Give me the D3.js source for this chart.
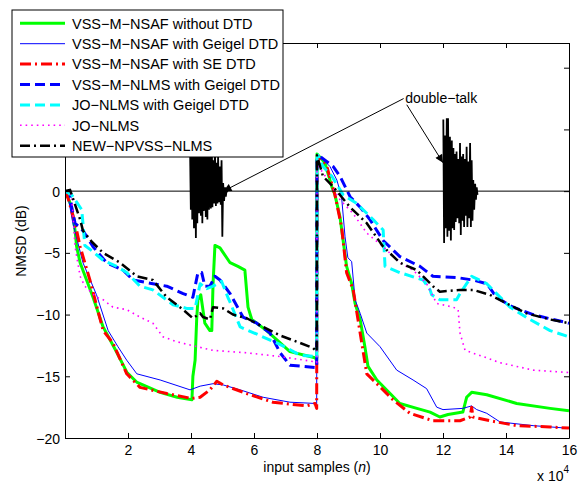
<!DOCTYPE html>
<html lang="en">
<head>
<meta charset="UTF-8">
<script src="https://d3js.org/d3.v7.min.js"></script>
<title>NMSD vs input samples</title>
<style>
  body { margin: 0; background: #fff; }
  text { font-family: "Liberation Sans", Arial, Helvetica, sans-serif; }
</style>
</head>
<body>
<script>
// x values are in units of 10^4 samples, y values in dB

// VSS-M-NSAF without DTD
const xNsafNoDtd = [0, 0.05, 0.21, 0.32, 0.37, 0.48, 0.89, 1.21, 1.65, 1.97, 2.29, 3.02, 3.56, 4.03, 4.06, 4.13, 4.18, 4.22, 4.31, 4.44, 4.6, 4.66, 4.7, 4.76, 4.92, 5.24, 5.49, 5.71, 5.81, 5.93, 6.4, 7.14, 7.94, 7.99,
  8.0, 8.25, 8.47, 8.57, 8.73, 8.83, 8.94, 9.1, 9.21, 9.37, 9.52, 9.62, 9.9, 10.32, 10.63, 11.17, 11.59, 11.9, 12.16, 12.63, 12.75, 12.91, 13.39, 14.34, 15.4, 16];
const yNsafNoDtd = [0, -0.2, -1.3, -3.2, -4.5, -5.8, -8.6, -11, -13.1, -14.7, -15.5, -16.3, -16.7, -16.9, -15, -13.7, -10.4, -8.8, -8.4, -10.7, -11.3, -11.3, -7.5, -4.4, -4.6, -5.8, -6.1, -6.4, -9.4, -10.4, -11.3, -13.0, -13.5, -13.7,
  3.0, 2.3, 0.36, -0.3, -2.1, -4.0, -6.1, -7.5, -9.1, -10.4, -12.6, -14.2, -15.3, -16.4, -17.2, -17.6, -17.9, -18.3, -18.1, -17.9, -16.7, -16.3, -16.5, -17.2, -17.6, -17.8];

// VSS-M-NSAF with Geigel DTD
const xNsafGeigel = [0, 0.1, 0.25, 0.57, 1.0, 1.37, 1.68, 1.96, 2.28, 3.02, 3.97, 4.29, 4.7, 5.02, 5.56, 6.29, 7.14, 7.94, 7.99,
  8.0, 8.1, 8.41, 8.63, 8.78, 8.89, 8.98, 9.1, 9.21, 9.37, 9.58, 10.0, 10.53, 11.05, 11.48, 11.8, 12.0, 12.63, 12.91, 13.07, 13.39, 13.81, 14.86, 15.93, 16];
const yNsafGeigel = [0, -0.5, -2.6, -5.8, -8.4, -11.3, -12.6, -13.7, -14.8, -15.3, -16.1, -15.8, -15.6, -15.7, -16.1, -16.7, -17.1, -17.2, -17.3,
  2.6, 2.8, 2.0, 0.9, -0.45, -3.7, -5.4, -5.7, -8.8, -9.9, -11.5, -12.6, -14.5, -15.3, -16.0, -17.5, -17.7, -17.6, -17.4, -17.7, -18.0, -18.7, -19.0, -19.2, -19.2];

// VSS-M-NSAF with SE DTD
const xNsafSe = [0, 0.1, 0.32, 0.48, 0.79, 1.21, 1.52, 1.96, 2.38, 3.23, 4.02, 4.29, 4.6, 4.82, 5.02, 5.77, 6.6, 7.67, 7.94, 7.99,
  8.0, 8.03, 8.31, 8.57, 8.78, 8.94, 9.15, 9.37, 9.58, 9.9, 10.41, 10.95, 11.68, 12.54, 12.86, 12.91, 12.95, 13.49, 14.34, 15.4, 16];
const yNsafSe = [0, -0.6, -2.6, -4.5, -7.2, -11.3, -12.3, -14.8, -15.9, -16.4, -16.8, -16.7, -16.1, -15.4, -15.7, -16.4, -17.1, -17.4, -17.2, -17.6,
  2.5, 2.8, 2.0, -0.3, -2.9, -6.6, -8.0, -11.5, -14.8, -15.6, -16.9, -18.0, -18.6, -18.6, -18.3, -17.5, -18.3, -18.6, -19.0, -19.1, -19.2];

// VSS-M-NLMS with Geigel DTD
const xNlmsGeigel = [0, 0.16, 0.21, 0.32, 0.57, 0.89, 1.32, 1.84, 2.16, 2.79, 3.23, 3.75, 4.06, 4.22, 4.34, 4.44, 4.6, 4.76, 4.92, 5.24, 5.65, 6.09, 6.51, 6.83, 7.14, 7.56, 7.99,
  8.0, 8.1, 8.51, 8.73, 9.05, 9.37, 9.68, 10.1, 10.63, 11.27, 11.68, 12.43, 12.95, 13.39, 13.7, 14.22, 14.86, 15.49, 16];
const yNlmsGeigel = [0, -0.15, -1.3, -2.6, -3.2, -4.5, -5.8, -6.4, -7.2, -7.5, -7.7, -8.3, -8.6, -6.6, -6.6, -7.7, -7.7, -6.9, -7.2, -8.3, -10.2, -10.7, -11.5, -13.1, -14.1, -14.2, -14.3,
  2.5, 2.8, 2.0, 1.2, -0.45, -1.3, -2.3, -4.0, -5.3, -6.1, -6.9, -7.0, -7.2, -7.5, -8.6, -9.4, -10.0, -10.4, -10.7];

// JO-NLMS with Geigel DTD
const xJoGeigel = [0, 0.21, 0.53, 0.57, 0.63, 0.89, 1.21, 1.64, 1.96, 2.38, 2.79, 3.43, 3.86, 4.13, 4.29, 4.5, 4.7, 4.97, 5.17, 5.24, 5.56, 6.19, 6.72, 7.04, 7.46, 7.94, 7.99,
  8.0, 8.03, 8.19, 8.47, 8.83, 9.26, 9.78, 10.1, 10.16, 10.63, 11.37, 11.59, 11.64, 11.9, 12.43, 12.54, 12.75, 12.91, 13.39, 13.7, 14.13, 14.76, 15.4, 16];
const yJoGeigel = [0, -0.3, -1.5, -2.6, -4.4, -4.9, -5.6, -6.1, -6.6, -7.7, -8.0, -9.2, -9.5, -9.5, -7.5, -7.9, -7.7, -7.3, -8.6, -9.0, -11.0, -11.7, -12.3, -12.7, -13.3, -13.4, -13.5,
  2.6, 2.9, 2.0, 1.2, -0.3, -1.0, -2.3, -3.15, -6.1, -6.6, -7.2, -8.0, -8.4, -8.8, -8.8, -8.3, -7.5, -6.9, -7.5, -8.3, -9.4, -10.4, -11.3, -11.8];

// JO-NLMS
const xJo = [0, 0.21, 0.25, 0.32, 0.48, 0.63, 1.0, 1.21, 1.52, 1.96, 2.38, 2.79, 3.11, 3.55, 4.02, 4.7, 5.77, 6.83, 7.87, 7.99,
  8.0, 8.03, 8.19, 8.73, 9.14, 9.58, 10.1, 10.63, 11.05, 11.48, 11.8, 12.32, 12.48, 12.54, 12.7, 13.27, 13.81, 14.86, 16];
const yJo = [0, -0.3, -1.8, -4.5, -6.9, -7.7, -8.6, -8.8, -9.4, -9.6, -10.2, -10.7, -11.8, -12.2, -12.5, -12.9, -13.1, -13.4, -13.8, -13.9,
  1.8, 2.0, 1.5, -0.7, -1.8, -3.4, -4.5, -5.8, -6.4, -7.5, -9.1, -9.4, -9.6, -11.5, -12.9, -13.4, -13.9, -14.5, -14.7];

// NEW-NPVSS-NLMS
const xNpvss = [0, 0.16, 0.48, 0.57, 0.85, 1.21, 1.75, 2.28, 2.79, 3.23, 3.75, 4.06, 4.29, 4.38, 4.6, 4.7, 5.02, 5.33, 5.77, 6.29, 6.83, 7.36, 7.87, 7.99,
  8.0, 8.19, 8.51, 9.05, 9.58, 10.1, 10.63, 11.17, 11.68, 11.9, 12.54, 12.95, 13.49, 14.02, 14.65, 15.4, 16];
const yNpvss = [0, 0.1, -2.3, -3.2, -4.1, -5.0, -5.8, -6.9, -7.2, -8.6, -9.6, -10.3, -9.9, -10.2, -10.4, -9.4, -9.5, -10.0, -10.3, -11.0, -11.7, -12.2, -12.7, -13.0,
  2.9, 1.2, 0.36, -1.3, -2.6, -4.5, -5.8, -6.4, -7.7, -8.15, -8.0, -8.0, -8.4, -9.1, -9.9, -10.4, -10.7];

// double-talk signal (scaled, drawn around 0 dB): peak envelope of each burst
const dt1X  = [3.97, 4.02, 4.06, 4.13, 4.18, 4.22, 4.29, 4.34, 4.38, 4.44, 4.5, 4.54, 4.6, 4.66, 4.7, 4.76, 4.82, 4.86, 4.92, 4.97, 5.02, 5.08, 5.13];
const dt1Hi = [3.5, 5.5, 6.0, 5.0, 6.2, 5.5, 4.8, 5.6, 4.5, 5.2, 4.0, 4.6, 3.8, 4.2, 2.5, 3.6, 2.3, 2.8, 2.0, 2.5, 0.65, 0.3, 0.1];
const dt1Lo = [-1.5, -2.3, -3.0, -3.8, -2.6, -1.8, -2.0, -2.6, -1.6, -2.1, -2.3, -1.5, -1.4, -1.3, -1.0, -1.2, -1.0, -0.9, -1.1, -3.7, -0.8, -0.45, -0.1];
const dt2X  = [12.01, 12.06, 12.12, 12.16, 12.22, 12.28, 12.33, 12.38, 12.43, 12.49, 12.54, 12.59, 12.64, 12.7, 12.75, 12.8, 12.86, 12.91, 12.96, 13.02, 13.07];
const dt2Hi = [5.8, 4.5, 5.9, 5.9, 4.4, 4.1, 3.5, 3.0, 3.2, 2.6, 3.9, 2.8, 3.0, 2.6, 3.6, 2.4, 3.9, 2.5, 0.9, 0.6, 0.3];
const dt2Lo = [-4.2, -3.0, -3.7, -3.2, -4.0, -3.0, -3.15, -2.5, -2.2, -2.6, -3.55, -2.4, -2.9, -2.0, -2.9, -2.2, -2.9, -2.4, -1.5, -0.7, -0.3];

const legendLabels = ["VSS\u2212M\u2212NSAF without DTD", "VSS\u2212M\u2212NSAF with Geigel DTD", "VSS\u2212M\u2212NSAF with SE DTD",
  "VSS\u2212M\u2212NLMS with Geigel DTD", "JO\u2212NLMS with Geigel DTD", "JO\u2212NLMS", "NEW\u2212NPVSS\u2212NLMS"];
const xTicks = [2, 4, 6, 8, 10, 12, 14, 16];
const yTicks = [-20, -15, -10, -5, 0, 5, 10];

// annotation: text anchor and arrow tips (data units)
const annText = "double\u2212talk";
const annPos = [10.8, 7.55];
const annArrows = [[[10.75, 7.5], [5.03, 0.0]], [[10.85, 7.0], [12.0, 2.3]]];

const W = 581, H = 483;
const svg = d3.select("body").append("svg").attr("width", W).attr("height", H);

const x = d3.scaleLinear().domain([0, 16]).range([65, 569]);
const y = d3.scaleLinear().domain([-20, 12]).range([438, 43]);

const series = [
  { xs: xNsafNoDtd, ys: yNsafNoDtd, color: "#00ff00", w: 3, dash: null },
  { xs: xNsafGeigel, ys: yNsafGeigel, color: "#0000ff", w: 1, dash: null },
  { xs: xNsafSe, ys: yNsafSe, color: "#ff0000", w: 3, dash: "11,4,2,4" },
  { xs: xNlmsGeigel, ys: yNlmsGeigel, color: "#0000ff", w: 3, dash: "10,5" },
  { xs: xJoGeigel, ys: yJoGeigel, color: "#00ffff", w: 3, dash: "10,5" },
  { xs: xJo, ys: yJo, color: "#ff00ff", w: 1.6, dash: "1.6,4" },
  { xs: xNpvss, ys: yNpvss, color: "#000000", w: 2.5, dash: "10,4,2,4" }
];

const line = d3.line().x(d => x(d[0])).y(d => y(d[1]));

svg.append("defs").append("clipPath").attr("id", "plotclip")
  .append("rect").attr("x", 65).attr("y", 43).attr("width", 504).attr("height", 395);

const plot = svg.append("g").attr("clip-path", "url(#plotclip)");

series.forEach(s => {
  plot.append("path")
    .datum(s.xs.map((v, i) => [v, s.ys[i]]))
    .attr("d", line)
    .attr("fill", "none")
    .attr("stroke", s.color)
    .attr("stroke-width", s.w)
    .attr("stroke-dasharray", s.dash)
    .attr("stroke-linejoin", "round");
});

// double-talk signal: thin baseline at 0 plus two bursts
function burst(xs, hi, lo) {
  const pts = [];
  xs.forEach((v, i) => {
    const step = i < xs.length - 1 ? xs[i + 1] - v : xs[i] - xs[i - 1];
    pts.push([v, hi[i]]);
    pts.push([v + step / 2, lo[i]]);
  });
  return pts;
}
plot.append("line")
  .attr("x1", x(0)).attr("x2", x(16)).attr("y1", y(0)).attr("y2", y(0))
  .attr("stroke", "#000").attr("stroke-width", 1);
[burst(dt1X, dt1Hi, dt1Lo), burst(dt2X, dt2Hi, dt2Lo)].forEach(pts => {
  plot.append("path")
    .datum(pts)
    .attr("d", line)
    .attr("fill", "none")
    .attr("stroke", "#000")
    .attr("stroke-width", 1.8);
});

// axes (MATLAB style, ticks inside)
const axB = svg.append("g").attr("transform", "translate(0,438)")
  .call(d3.axisBottom(x).tickValues(xTicks).tickSizeInner(-5).tickSizeOuter(0).tickPadding(7));
const axT = svg.append("g").attr("transform", "translate(0,43)")
  .call(d3.axisTop(x).tickValues(xTicks).tickSizeInner(-5).tickSizeOuter(0).tickFormat(""));
const axL = svg.append("g").attr("transform", "translate(65,0)")
  .call(d3.axisLeft(y).tickValues(yTicks).tickSizeInner(-5).tickSizeOuter(0).tickPadding(5));
const axR = svg.append("g").attr("transform", "translate(569,0)")
  .call(d3.axisRight(y).tickValues(yTicks).tickSizeInner(-5).tickSizeOuter(0).tickFormat(""));
[axB, axT, axL, axR].forEach(a => {
  a.selectAll("path,line").attr("stroke", "#000").attr("stroke-width", 1);
  a.selectAll("text").attr("font-size", 14).attr("fill", "#000")
    .attr("font-family", "'Liberation Sans', Arial, sans-serif");
});
axL.selectAll("text").attr("dy", "0.36em");

// axis labels
svg.append("text")
  .attr("transform", "translate(26,241) rotate(-90)")
  .attr("text-anchor", "middle").attr("font-size", 14)
  .text("NMSD (dB)");
const xl = svg.append("text")
  .attr("x", 317).attr("y", 472)
  .attr("text-anchor", "middle").attr("font-size", 14);
xl.append("tspan").text("input samples (");
xl.append("tspan").attr("font-style", "italic").text("n");
xl.append("tspan").text(")");
const mult = svg.append("text").attr("x", 537).attr("y", 481).attr("font-size", 14);
mult.append("tspan").text("x 10");
mult.append("tspan").attr("font-size", 10).attr("dy", -8).text("4");

// annotation arrows
svg.append("defs").append("marker")
  .attr("id", "ah").attr("viewBox", "0 0 10 10").attr("refX", 10).attr("refY", 5)
  .attr("markerWidth", 10).attr("markerHeight", 8).attr("markerUnits", "userSpaceOnUse")
  .attr("orient", "auto")
  .append("path").attr("d", "M0,0L10,5L0,10Z").attr("fill", "#000");
annArrows.forEach(a => {
  svg.append("line")
    .attr("x1", x(a[0][0])).attr("y1", y(a[0][1]))
    .attr("x2", x(a[1][0])).attr("y2", y(a[1][1]))
    .attr("stroke", "#000").attr("stroke-width", 1)
    .attr("marker-end", "url(#ah)");
});
svg.append("text")
  .attr("x", x(annPos[0])).attr("y", y(annPos[1]))
  .attr("dy", "0.35em").attr("font-size", 14)
  .text(annText);

// legend
const lg = svg.append("g");
lg.append("rect").attr("x", 12).attr("y", 10).attr("width", 271).attr("height", 147)
  .attr("fill", "#fff").attr("stroke", "#000").attr("stroke-width", 1);
series.forEach((s, i) => {
  const ly = 23.3 + i * 20.4;
  lg.append("line")
    .attr("x1", 20).attr("x2", 65).attr("y1", ly).attr("y2", ly)
    .attr("stroke", s.color).attr("stroke-width", s.w)
    .attr("stroke-dasharray", s.dash);
  lg.append("text")
    .attr("x", 72).attr("y", ly).attr("dy", "0.36em")
    .attr("font-size", 14.5)
    .text(legendLabels[i]);
});
</script>
</body>
</html>
